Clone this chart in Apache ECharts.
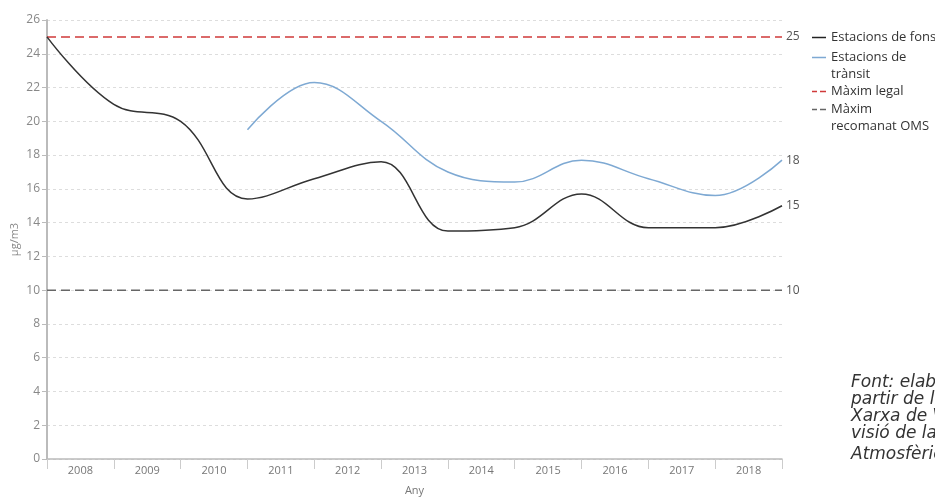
<!DOCTYPE html>
<html>
<head>
<meta charset="utf-8">
<script src="https://cdn.jsdelivr.net/npm/echarts@6/dist/echarts.min.js"></script>
<style>
  html, body { margin: 0; padding: 0; background: #fff; }
  #chart { width: 935px; height: 497px; }
</style>
</head>
<body>
<div id="chart"></div>
<script>
// anys (etiquetes de l'eix) i punts de les sèries (límits entre anys)
var anys = ['2008', '2009', '2010', '2011', '2012', '2013', '2014', '2015', '2016', '2017', '2018'];
var puntsX = ['p0', 'p1', 'p2', 'p3', 'p4', 'p5', 'p6', 'p7', 'p8', 'p9', 'p10', 'p11'];
var fons = [25, 21, 20, 15.4, 16.6, 17.6, 13.5, 13.7, 15.7, 13.7, 13.7, 15];
var transit = [null, null, null, 19.5, 22.3, 20, 17, 16.4, 17.7, 16.6, 15.6, 17.7];
var maximLegal = [25, 25, 25, 25, 25, 25, 25, 25, 25, 25, 25, 25];
var maximOMS = [10, 10, 10, 10, 10, 10, 10, 10, 10, 10, 10, 10];
var yTicks = [0, 26, 2]; // min, max, interval

var legendNames = {
  'Estacions de fons': 'Estacions de fons',
  'Estacions de trànsit': 'Estacions de\ntrànsit',
  'Màxim legal': 'Màxim legal',
  'Màxim recomanat OMS': 'Màxim\nrecomanat OMS'
};

// icones de la llegenda: la línia queda a l'altura de la primera línia de text
var iconSolid = 'path://M0,0h14v1.5h-14z';
var iconDash = 'path://M0,0h5v1.5h-5z M8,0h6v1.5h-6z';
var iconSolid2 = 'path://M0,0h0v0z M0,7.75h14v1.5h-14z M0,34h0v0z';
var iconDash2 = 'path://M0,0h0v0z M0,7.75h5v1.5h-5z M8,7.75h6v1.5h-6z M0,34h0v0z';

var chart = echarts.init(document.getElementById('chart'));

function endLabel () {
  return {
    show: true,
    distance: 4,
    color: '#555',
    fontSize: 12,
    fontFamily: 'Open Sans',
    formatter: function (p) { return Math.round(p.value); }
  };
}

function legendItem (name, icon, top, h) {
  return {
    orient: 'vertical',
    left: 812,
    top: top,
    padding: 0,
    itemWidth: 14,
    itemHeight: h,
    textStyle: { fontSize: 13, color: '#333', lineHeight: 17 },
    formatter: function (n) { return legendNames[n]; },
    data: [{ name: name, icon: icon }]
  };
}

var option = {
  animation: false,
  textStyle: { fontFamily: 'Open Sans' },
  grid: { left: 47, right: 153, top: 20, bottom: 38, outerBoundsMode: 'none', containLabel: false },
  legend: [
    legendItem('Estacions de fons', iconSolid, 29, 1.5),
    legendItem('Estacions de trànsit', iconSolid2, 49, 34),
    legendItem('Màxim legal', iconDash, 83, 1.5),
    legendItem('Màxim recomanat OMS', iconDash2, 101, 34)
  ],
  xAxis: [
    {
      type: 'category',
      data: anys,
      boundaryGap: true,
      name: 'Any',
      nameLocation: 'middle',
      nameGap: 26,
      nameTextStyle: { color: '#777', fontSize: 11 },
      axisLine: { lineStyle: { color: '#bbb', width: 1.5 } },
      axisTick: { show: true, length: 10, lineStyle: { color: '#ccc' } },
      axisLabel: { color: '#777', fontSize: 11, margin: 6 },
      splitLine: { show: false }
    },
    {
      type: 'category',
      data: puntsX,
      boundaryGap: false,
      show: false
    }
  ],
  yAxis: {
    type: 'value',
    min: yTicks[0],
    max: yTicks[1],
    interval: yTicks[2],
    name: 'µg/m3',
    nameLocation: 'middle',
    nameGap: 27,
    nameMoveOverlap: false,
    nameTextStyle: { color: '#888', fontSize: 11 },
    axisLine: { show: true, lineStyle: { color: '#bbb', width: 2 } },
    axisTick: { show: true, length: 5, lineStyle: { color: '#bbb' } },
    axisLabel: { color: '#888', fontSize: 12, margin: 7 },
    splitLine: { lineStyle: { color: '#ddd', type: [3, 3] } }
  },
  series: [
    {
      name: 'Màxim legal',
      type: 'line',
      xAxisIndex: 1,
      data: maximLegal,
      symbol: 'none',
      lineStyle: { color: '#d03a3a', width: 1.5, type: [9, 5] },
      itemStyle: { color: '#d03a3a' },
      endLabel: endLabel(),
      z: 3
    },
    {
      name: 'Màxim recomanat OMS',
      type: 'line',
      xAxisIndex: 1,
      data: maximOMS,
      symbol: 'none',
      lineStyle: { color: '#666', width: 1.5, type: [9, 5] },
      itemStyle: { color: '#666' },
      endLabel: endLabel(),
      z: 3
    },
    {
      name: 'Estacions de fons',
      type: 'line',
      xAxisIndex: 1,
      data: fons,
      smooth: 0.4,
      symbol: 'none',
      lineStyle: { color: '#333', width: 1.5 },
      itemStyle: { color: '#222' },
      endLabel: endLabel(),
      z: 4
    },
    {
      name: 'Estacions de trànsit',
      type: 'line',
      xAxisIndex: 1,
      data: transit,
      smooth: 0.4,
      symbol: 'none',
      connectNulls: false,
      lineStyle: { color: '#7ea9d3', width: 1.5 },
      itemStyle: { color: '#7ea9d3' },
      endLabel: endLabel(),
      z: 4
    }
  ],
  graphic: [
    {
      type: 'text',
      left: 851,
      top: 374,
      style: {
        text: 'Font: elaboració pròpia a\npartir de les dades de la\nXarxa de Vigilància i Pre-\nvisió de la Contaminació',
        font: 'italic 300 17px "DejaVu Sans"',
        lineHeight: 17,
        fill: '#333'
      }
    },
    {
      type: 'text',
      left: 851,
      top: 446,
      style: {
        text: 'Atmosfèrica',
        font: 'italic 300 17px "DejaVu Sans"',
        fill: '#333'
      }
    }
  ]
};

chart.setOption(option);
</script>
</body>
</html>
